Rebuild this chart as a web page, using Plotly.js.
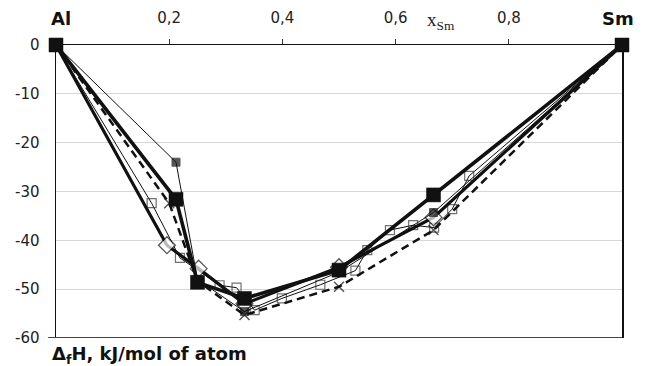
<!DOCTYPE html>
<html>
<head>
<meta charset="utf-8">
<script src="https://cdn.plot.ly/plotly-3.0.1.min.js"></script>
<style>html,body{margin:0;padding:0;background:#fff;}#chart{width:650px;height:366px;}</style>
</head>
<body>
<div id="chart"></div>
<script>
// Open squares, thin solid line
const sqOpenX = [0, 0.169, 0.219, 0.289, 0.319, 0.351, 0.399, 0.467, 0.529, 0.550, 0.590, 0.631, 0.668, 0.700, 0.730, 1];
const sqOpenY = [0, -32.4, -43.6, -49.2, -49.7, -54.3, -51.9, -49.1, -46.2, -42.0, -37.9, -36.9, -37.4, -33.6, -26.8, 0];
// Small filled squares, thin solid line
const sqSmallX = [0, 0.212, 0.25, 0.333, 0.5, 0.667, 1];
const sqSmallY = [0, -24.0, -48.0, -54.6, -46.5, -34.3, 0];
// Crosses, thick dashed line
const crossX = [0, 0.2, 0.25, 0.333, 0.5, 0.667, 1];
const crossY = [0, -32.4, -48.3, -55.3, -49.5, -37.9, 0];
// Open diamonds, thick solid line
const diaX = [0, 0.196, 0.252, 0.333, 0.5, 0.667, 1];
const diaY = [0, -41.0, -45.8, -53.0, -45.5, -35.3, 0];
// Large filled squares, thick solid line
const sqBigX = [0, 0.212, 0.25, 0.333, 0.5, 0.667, 1];
const sqBigY = [0, -31.6, -48.6, -51.9, -46.1, -30.7, 0];

const xTickVals = [0.2, 0.4, 0.6, 0.8];
const xTickText = ['0,2', '0,4', '0,6', '0,8'];
const yTickVals = [0, -10, -20, -30, -40, -50, -60];
const yTickText = ['0', '-10', '-20', '-30', '-40', '-50', '-60'];

// marker sizes: hide the shared end points (Al, Sm) except for the big-square series
function innerSizes(xs, s) {
  return xs.map((v, i) => (i === 0 || i === xs.length - 1) ? 0 : s);
}

const K = '#111111';
const traces = [
  {x: sqOpenX, y: sqOpenY, mode: 'lines+markers', cliponaxis: false,
   line: {color: K, width: 1},
   marker: {symbol: 'square-open', size: innerSizes(sqOpenX, 9), color: '#333', line: {width: 1.2}}},
  {x: diaX, y: diaY, mode: 'lines+markers', cliponaxis: false,
   line: {color: K, width: 3.2},
   marker: {symbol: 'diamond', size: innerSizes(diaX, 13), color: '#fff', line: {width: 1.3, color: K}}},
  {x: crossX, y: crossY, mode: 'lines+markers', cliponaxis: false,
   line: {color: K, width: 2.5, dash: '8px,5px'},
   marker: {symbol: 'x-thin-open', size: innerSizes(crossX, 10), color: K, line: {width: 1.5, color: K}}},
  {x: sqSmallX, y: sqSmallY, mode: 'lines+markers', cliponaxis: false,
   line: {color: K, width: 1},
   marker: {symbol: 'square', size: innerSizes(sqSmallX, 8), color: K, line: {width: 1, color: K}}},
  {x: sqBigX, y: sqBigY, mode: 'lines+markers', cliponaxis: false,
   line: {color: K, width: 3.6},
   marker: {symbol: 'square', size: 14, color: K, line: {width: 0.5, color: K}}}
];

const layout = {
  width: 650, height: 366,
  margin: {l: 56, r: 28, t: 45, b: 28},
  paper_bgcolor: '#fff', plot_bgcolor: '#fff',
  showlegend: false,
  font: {family: 'DejaVu Sans, Arial, sans-serif', size: 15, color: '#222'},
  xaxis: {
    range: [0, 1], side: 'top', showgrid: false, zeroline: false,
    showline: true, linecolor: K, linewidth: 1.5,
    ticks: 'outside', ticklen: 5, tickcolor: '#333', tickwidth: 1,
    tickvals: xTickVals, ticktext: xTickText,
    ticklabelstandoff: 10,
    tickfont: {family: 'DejaVu Sans, Arial, sans-serif', size: 15, color: '#222'}
  },
  yaxis: {
    range: [-60, 0], showgrid: true, gridcolor: '#d6d6d6', gridwidth: 1.2,
    zeroline: false, showline: true, linecolor: K, linewidth: 1.5, mirror: true,
    ticks: '', tickvals: yTickVals, ticktext: yTickText,
    ticklabelstandoff: 12,
    tickfont: {family: 'DejaVu Sans, Arial, sans-serif', size: 15, color: '#222'}
  },
  shapes: [
    {type: 'line', xref: 'paper', yref: 'y', x0: -0.014, x1: 1, y0: -60, y1: -60,
     line: {color: '#444', width: 2}},
    {type: 'line', xref: 'paper', yref: 'y', x0: -0.012, x1: 0, y0: 0, y1: 0,
     line: {color: K, width: 1.5}}
  ],
  annotations: [
    {text: '<b>Al</b>', xref: 'x', yref: 'paper', x: 0, y: 1, xshift: 5, yshift: 27,
     xanchor: 'center', yanchor: 'middle', showarrow: false,
     font: {family: 'DejaVu Sans, Arial, sans-serif', size: 18, color: '#111'}},
    {text: '<b>Sm</b>', xref: 'x', yref: 'paper', x: 1, y: 1, xshift: -4, yshift: 27,
     xanchor: 'center', yanchor: 'middle', showarrow: false,
     font: {family: 'DejaVu Sans, Arial, sans-serif', size: 18, color: '#111'}},
    {text: 'x<sub>Sm</sub>', xref: 'paper', yref: 'paper', x: 0.68, y: 1, yshift: 24,
     xanchor: 'center', yanchor: 'middle', showarrow: false,
     font: {family: 'Liberation Serif, Times New Roman, serif', size: 19, color: '#222'}},
    {text: '<b>Δ<sub>f</sub>H, kJ/mol of atom</b>', xref: 'paper', yref: 'paper',
     x: -0.011, y: 0, yshift: -17, xanchor: 'left', yanchor: 'middle', showarrow: false,
     font: {family: 'DejaVu Sans, Arial, sans-serif', size: 18, color: '#111'}}
  ]
};

Plotly.newPlot('chart', traces, layout, {displayModeBar: false, staticPlot: true});
</script>
</body>
</html>
